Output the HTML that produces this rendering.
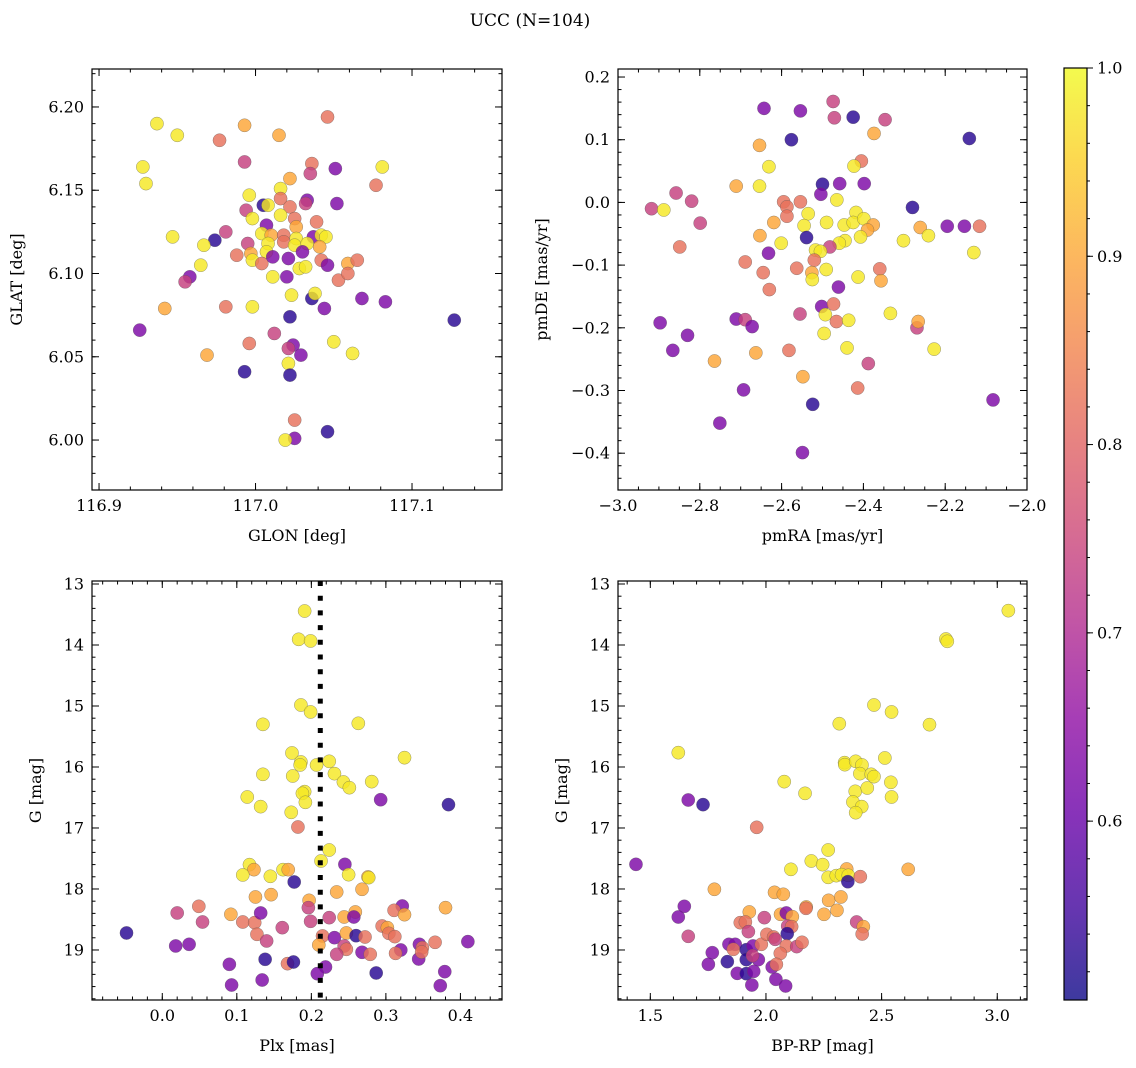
<!DOCTYPE html>
<html><head><meta charset="utf-8"><style>
html,body{margin:0;padding:0;background:#fff;}
svg{display:block;font-family:"DejaVu Serif","Liberation Serif",serif;}
</style></head><body>
<svg id="fig" width="1136" height="1068" viewBox="0 0 1136 1068" xmlns="http://www.w3.org/2000/svg">
<text x="530" y="26" font-size="17" text-anchor="middle">UCC (N=104)</text>
<defs>
<linearGradient id="plasmaGrad" x1="0" y1="1" x2="0" y2="0">
<stop offset="0" stop-color="#0d0887"/><stop offset="0.1" stop-color="#41049d"/><stop offset="0.2" stop-color="#6a00a8"/><stop offset="0.3" stop-color="#8f0da4"/><stop offset="0.4" stop-color="#b12a90"/><stop offset="0.5" stop-color="#cc4778"/><stop offset="0.6" stop-color="#e16462"/><stop offset="0.7" stop-color="#f2844b"/><stop offset="0.8" stop-color="#fca636"/><stop offset="0.9" stop-color="#fcce25"/><stop offset="1" stop-color="#f0f921"/>
</linearGradient>
</defs>
<g id="panels"></g>
<g id="cbar"></g>
</svg>
<script>
// ---- data ----
const p1Glon=[116.937,116.950,116.993,116.977,117.015,117.046,116.928,116.930,116.993,117.036,117.051,117.081,117.035,117.022,117.077,117.016,116.996,117.016,117.033,117.032,117.052,117.005,117.008,117.022,116.994,116.998,117.016,117.025,117.039,117.007,117.026,116.981,116.947,116.974,117.004,117.010,117.018,117.026,117.037,117.042,117.045,116.967,116.995,117.008,117.018,117.025,117.033,117.041,117.030,116.988,116.997,117.007,116.998,117.004,117.011,117.021,117.042,117.046,117.059,117.065,116.965,116.958,116.955,117.028,117.032,117.011,117.020,117.053,117.059,117.023,117.036,117.038,117.044,117.068,117.083,116.942,116.981,116.998,117.022,117.127,116.926,117.012,116.996,117.024,117.021,117.029,117.050,117.062,116.969,116.993,117.021,117.022,117.025,117.025,117.019,117.046];
const p1Glat=[6.190,6.183,6.189,6.180,6.183,6.194,6.164,6.154,6.167,6.166,6.163,6.164,6.160,6.157,6.153,6.151,6.147,6.145,6.144,6.142,6.142,6.141,6.141,6.140,6.138,6.133,6.135,6.133,6.131,6.129,6.128,6.125,6.122,6.120,6.124,6.123,6.123,6.121,6.122,6.123,6.122,6.117,6.118,6.118,6.119,6.117,6.118,6.116,6.113,6.111,6.112,6.113,6.108,6.106,6.110,6.109,6.108,6.105,6.106,6.108,6.105,6.098,6.095,6.103,6.104,6.098,6.098,6.096,6.100,6.087,6.085,6.088,6.079,6.085,6.083,6.079,6.080,6.080,6.074,6.072,6.066,6.064,6.058,6.057,6.055,6.051,6.059,6.052,6.051,6.041,6.046,6.039,6.012,6.001,6.000,6.005];
const p1Prob=[0.98,0.98,0.90,0.82,0.90,0.82,0.98,0.98,0.74,0.82,0.63,0.98,0.74,0.90,0.82,0.98,0.98,0.82,0.63,0.74,0.63,0.53,0.98,0.82,0.74,0.98,0.98,0.82,0.82,0.63,0.90,0.74,0.98,0.53,0.98,0.90,0.82,0.98,0.63,0.98,0.98,0.98,0.74,0.98,0.82,0.98,0.98,0.90,0.63,0.82,0.90,0.98,0.98,0.82,0.63,0.63,0.82,0.63,0.90,0.82,0.98,0.63,0.74,0.98,0.98,0.98,0.63,0.82,0.82,0.98,0.53,0.98,0.63,0.63,0.63,0.90,0.82,0.98,0.53,0.53,0.63,0.74,0.82,0.63,0.74,0.63,0.98,0.98,0.90,0.53,0.98,0.53,0.82,0.63,0.98,0.53];

const p2PmRA=[-2.643,-2.554,-2.474,-2.471,-2.425,-2.347,-2.374,-2.576,-2.141,-2.654,-2.405,-2.423,-2.631,-2.711,-2.654,-2.500,-2.458,-2.398,-2.504,-2.858,-2.820,-2.918,-2.888,-2.799,-2.595,-2.587,-2.554,-2.465,-2.280,-2.587,-2.535,-2.619,-2.545,-2.490,-2.447,-2.418,-2.425,-2.399,-2.376,-2.390,-2.195,-2.153,-2.116,-2.261,-2.241,-2.302,-2.130,-2.849,-2.653,-2.601,-2.539,-2.445,-2.459,-2.407,-2.482,-2.517,-2.505,-2.632,-2.520,-2.689,-2.645,-2.563,-2.526,-2.525,-2.491,-2.413,-2.360,-2.357,-2.630,-2.461,-2.502,-2.473,-2.555,-2.493,-2.466,-2.436,-2.334,-2.897,-2.711,-2.689,-2.672,-2.269,-2.266,-2.830,-2.866,-2.496,-2.440,-2.582,-2.663,-2.764,-2.227,-2.388,-2.548,-2.414,-2.693,-2.524,-2.083,-2.751,-2.549];
const p2PmDE=[0.150,0.146,0.161,0.135,0.136,0.132,0.110,0.100,0.102,0.091,0.066,0.058,0.057,0.026,0.026,0.029,0.030,0.030,0.013,0.015,0.002,-0.010,-0.012,-0.033,0.001,-0.007,0.001,0.004,-0.008,-0.022,-0.018,-0.032,-0.037,-0.032,-0.036,-0.016,-0.032,-0.026,-0.036,-0.044,-0.038,-0.038,-0.038,-0.040,-0.053,-0.061,-0.080,-0.071,-0.053,-0.065,-0.056,-0.061,-0.065,-0.055,-0.071,-0.076,-0.078,-0.081,-0.092,-0.095,-0.112,-0.105,-0.112,-0.123,-0.107,-0.119,-0.106,-0.125,-0.139,-0.135,-0.166,-0.162,-0.178,-0.179,-0.190,-0.188,-0.177,-0.192,-0.186,-0.187,-0.198,-0.200,-0.190,-0.212,-0.236,-0.209,-0.232,-0.236,-0.240,-0.253,-0.234,-0.257,-0.278,-0.296,-0.299,-0.322,-0.315,-0.352,-0.399];
const p2Prob=[0.63,0.63,0.74,0.74,0.53,0.74,0.90,0.53,0.53,0.90,0.82,0.98,0.98,0.90,0.98,0.53,0.63,0.63,0.63,0.74,0.74,0.74,0.98,0.74,0.82,0.82,0.82,0.98,0.53,0.82,0.98,0.90,0.98,0.98,0.98,0.98,0.98,0.98,0.90,0.90,0.63,0.63,0.82,0.90,0.98,0.98,0.98,0.82,0.90,0.98,0.53,0.98,0.98,0.98,0.74,0.98,0.98,0.63,0.82,0.82,0.82,0.82,0.90,0.98,0.98,0.98,0.82,0.90,0.82,0.63,0.63,0.82,0.74,0.98,0.82,0.98,0.98,0.63,0.63,0.74,0.63,0.74,0.90,0.63,0.63,0.98,0.98,0.82,0.90,0.90,0.98,0.74,0.90,0.82,0.63,0.53,0.63,0.63,0.63];

const p3Plx=[0.191,0.183,0.199,0.186,0.199,0.135,0.263,0.174,0.186,0.185,0.207,0.224,0.325,0.135,0.175,0.231,0.243,0.251,0.281,0.191,0.188,0.192,0.114,0.132,0.173,0.293,0.384,0.182,0.224,0.213,0.117,0.123,0.108,0.145,0.162,0.169,0.177,0.245,0.250,0.276,0.277,0.125,0.146,0.234,0.268,0.197,0.196,0.020,0.049,0.054,0.092,0.108,0.124,0.132,0.161,0.199,0.224,0.244,0.259,0.257,0.322,0.311,0.325,0.380,-0.048,0.018,0.036,0.127,0.140,0.215,0.210,0.231,0.247,0.260,0.272,0.295,0.302,0.304,0.312,0.244,0.247,0.234,0.268,0.279,0.320,0.313,0.345,0.349,0.366,0.410,0.344,0.348,0.090,0.138,0.168,0.176,0.219,0.208,0.287,0.379,0.093,0.134,0.373];
const p3G=[13.443,13.907,13.934,14.984,15.098,15.301,15.284,15.770,15.918,15.967,15.967,15.907,15.847,16.120,16.148,16.109,16.246,16.339,16.240,16.404,16.432,16.579,16.492,16.650,16.743,16.536,16.617,16.984,17.361,17.541,17.601,17.683,17.770,17.792,17.683,17.683,17.885,17.596,17.765,17.803,17.814,18.131,18.093,18.049,18.005,18.186,18.306,18.393,18.284,18.541,18.415,18.541,18.552,18.393,18.634,18.530,18.470,18.459,18.377,18.459,18.279,18.350,18.421,18.306,18.721,18.934,18.907,18.743,18.852,18.770,18.918,18.798,18.721,18.765,18.787,18.607,18.634,18.727,18.781,18.934,18.989,19.071,19.038,19.071,19.000,19.055,18.907,18.962,18.874,18.863,19.148,19.033,19.235,19.153,19.224,19.197,19.279,19.388,19.377,19.355,19.574,19.492,19.585];
const p3Prob=[0.98,0.98,0.98,0.98,0.98,0.98,0.98,0.98,0.98,0.98,0.98,0.98,0.98,0.98,0.98,0.98,0.98,0.98,0.98,0.98,0.98,0.98,0.98,0.98,0.98,0.63,0.53,0.82,0.98,0.98,0.98,0.90,0.98,0.98,0.98,0.90,0.53,0.63,0.98,0.90,0.98,0.90,0.90,0.90,0.90,0.90,0.74,0.74,0.82,0.74,0.90,0.82,0.82,0.63,0.74,0.74,0.74,0.90,0.90,0.63,0.63,0.82,0.90,0.90,0.53,0.63,0.63,0.82,0.74,0.82,0.90,0.63,0.90,0.53,0.82,0.82,0.90,0.82,0.82,0.74,0.82,0.74,0.63,0.82,0.63,0.82,0.63,0.82,0.82,0.63,0.63,0.82,0.63,0.53,0.82,0.53,0.63,0.63,0.53,0.63,0.63,0.63,0.63];
const plxMedian=0.212;

const p4BpRp=[3.048,2.778,2.784,2.467,2.543,2.317,2.707,1.621,2.340,2.341,2.388,2.415,2.514,2.406,2.455,2.467,2.079,2.169,2.386,2.438,2.540,2.543,2.376,2.414,2.388,1.664,1.728,1.960,2.269,2.196,2.245,2.108,1.438,2.349,2.615,2.269,2.304,2.327,2.356,2.354,2.408,1.777,2.037,2.075,2.271,2.324,2.174,2.173,2.251,2.307,1.647,1.621,1.664,1.928,1.889,1.911,1.924,1.993,2.063,2.088,2.114,2.094,2.111,2.392,2.421,2.416,1.840,1.867,1.859,1.915,1.944,1.980,2.004,2.033,2.040,2.092,2.088,2.062,2.133,2.156,1.768,1.751,1.833,1.915,1.967,1.942,2.027,2.045,1.876,1.915,1.947,2.043,2.085,1.939];
const p4G=[13.437,13.902,13.940,14.984,15.098,15.290,15.306,15.765,15.929,15.962,15.907,15.967,15.852,16.109,16.120,16.158,16.240,16.432,16.399,16.344,16.251,16.492,16.574,16.650,16.749,16.541,16.617,16.989,17.361,17.541,17.601,17.678,17.596,17.672,17.678,17.809,17.781,17.765,17.776,17.880,17.798,18.005,18.055,18.087,18.186,18.131,18.295,18.317,18.415,18.350,18.284,18.459,18.776,18.377,18.552,18.541,18.699,18.470,18.415,18.393,18.454,18.607,18.617,18.541,18.617,18.738,18.907,18.907,18.989,18.995,18.934,18.907,18.743,18.787,18.825,18.732,18.934,19.055,18.945,18.874,19.044,19.235,19.191,19.158,19.158,19.093,19.279,19.235,19.383,19.388,19.350,19.481,19.590,19.574];
const p4Prob=[0.98,0.98,0.98,0.98,0.98,0.98,0.98,0.98,0.98,0.98,0.98,0.98,0.98,0.98,0.98,0.98,0.98,0.98,0.98,0.98,0.98,0.98,0.98,0.98,0.98,0.63,0.53,0.82,0.98,0.98,0.98,0.98,0.63,0.90,0.90,0.98,0.98,0.98,0.98,0.53,0.82,0.90,0.90,0.90,0.90,0.90,0.90,0.82,0.90,0.90,0.63,0.63,0.74,0.90,0.82,0.82,0.74,0.74,0.90,0.63,0.90,0.74,0.82,0.74,0.90,0.82,0.63,0.63,0.82,0.53,0.63,0.82,0.82,0.82,0.74,0.53,0.82,0.82,0.74,0.82,0.63,0.63,0.53,0.53,0.63,0.74,0.63,0.82,0.63,0.53,0.63,0.63,0.63,0.63];

const p1XTicks=[116.9,117.0,117.1];
const p1YTicks=[6.00,6.05,6.10,6.15,6.20];
const p2XTicks=[-3.0,-2.8,-2.6,-2.4,-2.2,-2.0];
const p2YTicks=[-0.4,-0.3,-0.2,-0.1,0.0,0.1,0.2];
const p3XTicks=[0.0,0.1,0.2,0.3,0.4];
const gTicks=[13,14,15,16,17,18,19];
const p4XTicks=[1.5,2.0,2.5,3.0];
const cbTicks=[0.6,0.7,0.8,0.9,1.0];
const vMin=0.505, vMax=1.0;

// ---- rendering ----
const NS="http://www.w3.org/2000/svg";
const stops=[[13,8,135],[65,4,157],[106,0,168],[143,13,164],[177,42,144],[204,71,120],[225,100,98],[242,132,75],[252,166,54],[252,206,37],[240,249,33]];
function plasma(v){let t=Math.max(0,Math.min(1,(v-vMin)/(vMax-vMin)))*10;let i=Math.min(9,Math.floor(t)),f=t-i;const a=stops[i],b=stops[i+1];return `rgb(${Math.round(a[0]+(b[0]-a[0])*f)},${Math.round(a[1]+(b[1]-a[1])*f)},${Math.round(a[2]+(b[2]-a[2])*f)})`;}
function mk(tag,attrs,parent){const e=document.createElementNS(NS,tag);for(const k in attrs)e.setAttribute(k,attrs[k]);parent.appendChild(e);return e;}
function fmt(v,d){return v.toFixed(d).replace('-','\u2212');}
const root=document.getElementById('panels');

function panel(c){
  const g=mk('g',{},root);
  
  
  const sx=v=>c.x0+(v-c.xmin)/(c.xmax-c.xmin)*c.w;
  const sy=v=>c.yrev? c.y0+(v-c.ymin)/(c.ymax-c.ymin)*c.h : c.y0+c.h-(v-c.ymin)/(c.ymax-c.ymin)*c.h;
  const pg=mk('g',{},g);
  
  
  c.xs.forEach((_,i)=>{
    const cx=sx(c.xs[i]),cy=sy(c.ys[i]);
    if(cx<c.x0||cx>c.x0+c.w||cy<c.y0||cy>c.y0+c.h)return;
    const p=mk('circle',{cx:cx,cy:cy,r:6.6,fill:plasma(c.ps[i]),'fill-opacity':0.82,stroke:'#555','stroke-opacity':0.6,'stroke-width':0.5},pg);
    
    
  });
  if(c.vline!==undefined){
    const l=mk('line',{x1:sx(c.vline),x2:sx(c.vline),y1:c.y0,y2:c.y0+c.h,stroke:'#000','stroke-width':5,'stroke-dasharray':'5 9.7'},g);
    
    
  }
  const fr=mk('rect',{x:c.x0,y:c.y0,width:c.w,height:c.h,fill:'none',stroke:'#000','stroke-width':1.2},g);
  
  
  const tg=mk('g',{stroke:'#000','stroke-width':1},g);
  const eps=1e-9;
  for(let v=Math.ceil(c.xmin/c.xminor-eps)*c.xminor; v<=c.xmax+eps; v+=c.xminor){const x=sx(v);mk('line',{x1:x,x2:x,y1:c.y0+c.h,y2:c.y0+c.h-3.5},tg);mk('line',{x1:x,x2:x,y1:c.y0,y2:c.y0+3.5},tg);}
  for(let v=Math.ceil(c.ymin/c.yminor-eps)*c.yminor; v<=c.ymax+eps; v+=c.yminor){const y=sy(v);mk('line',{x1:c.x0,x2:c.x0+3.5,y1:y,y2:y},tg);mk('line',{x1:c.x0+c.w,x2:c.x0+c.w-3.5,y1:y,y2:y},tg);}
  c.xt.forEach(v=>{const x=sx(v);if(x<c.x0-0.5||x>c.x0+c.w+0.5)return;
    mk('line',{x1:x,x2:x,y1:c.y0+c.h,y2:c.y0+c.h-7},tg);mk('line',{x1:x,x2:x,y1:c.y0,y2:c.y0+7},tg);
    const t=mk('text',{x:x,y:c.y0+c.h+21,'font-size':16,'text-anchor':'middle'},g);t.textContent=fmt(v,c.xd);
    
    });
  c.yt.forEach(v=>{const y=sy(v);if(y<c.y0-0.5||y>c.y0+c.h+0.5)return;
    mk('line',{x1:c.x0,x2:c.x0+7,y1:y,y2:y},tg);mk('line',{x1:c.x0+c.w,x2:c.x0+c.w-7,y1:y,y2:y},tg);
    const t=mk('text',{x:c.x0-8,y:y+5.5,'font-size':16,'text-anchor':'end'},g);t.textContent=fmt(v,c.yd);
    
    });
  const xl=mk('text',{x:c.x0+c.w/2,y:c.y0+c.h+51,'font-size':16,'text-anchor':'middle'},g);xl.textContent=c.xlabel;
  
  
  const yx=c.ylx, yy=c.y0+c.h/2;
  const yl=mk('text',{x:yx,y:yy,'font-size':16,'text-anchor':'middle',transform:`rotate(-90 ${yx} ${yy})`},g);yl.textContent=c.ylabel;
  
  
}

panel({name:'glon-glat-panel',x0:92,y0:69,w:410,h:421,xmin:116.8955,xmax:117.1575,ymin:5.970,ymax:6.2228,xminor:0.02,yminor:0.01,xt:p1XTicks,yt:p1YTicks,xd:1,yd:2,xlabel:'GLON [deg]',ylabel:'GLAT [deg]',ylx:22,xs:p1Glon,ys:p1Glat,ps:p1Prob});
panel({name:'proper-motion-panel',x0:618,y0:69,w:409,h:421,xmin:-3.0,xmax:-2.0,ymin:-0.4587,ymax:0.2128,xminor:0.05,yminor:0.02,xt:p2XTicks,yt:p2YTicks,xd:1,yd:1,xlabel:'pmRA [mas/yr]',ylabel:'pmDE [mas/yr]',ylx:547,xs:p2PmRA,ys:p2PmDE,ps:p2Prob});
panel({name:'plx-g-panel',x0:92,y0:581,w:410,h:419,xmin:-0.0943,xmax:0.4558,ymin:12.951,ymax:19.82,yrev:true,xminor:0.02,yminor:0.2,xt:p3XTicks,yt:gTicks,xd:1,yd:0,xlabel:'Plx [mas]',ylabel:'G [mag]',ylx:41,xs:p3Plx,ys:p3G,ps:p3Prob,vline:plxMedian});
panel({name:'cmd-panel',x0:618,y0:581,w:409,h:419,xmin:1.3603,xmax:3.1286,ymin:12.951,ymax:19.82,yrev:true,xminor:0.1,yminor:0.2,xt:p4XTicks,yt:gTicks,xd:1,yd:0,xlabel:'BP-RP [mag]',ylabel:'G [mag]',ylx:567,xs:p4BpRp,ys:p4G,ps:p4Prob});

// colorbar
const cb=document.getElementById('cbar');
const cx0=1064,cy0=68,cw=23,ch=932;
const cr=mk('rect',{x:cx0,y:cy0,width:cw,height:ch,fill:'url(#plasmaGrad)','fill-opacity':0.8},cb);


mk('rect',{x:cx0,y:cy0,width:cw,height:ch,fill:'none',stroke:'#000','stroke-width':1.2},cb);
const cby=v=>cy0+ch-(v-vMin)/(vMax-vMin)*ch;
for(let v=0.52; v<=1.0001; v+=0.02){const y=cby(v);mk('line',{x1:cx0+cw,x2:cx0+cw+3,y1:y,y2:y,stroke:'#000','stroke-width':1},cb);}
cbTicks.forEach(v=>{const y=cby(v);mk('line',{x1:cx0+cw,x2:cx0+cw+6,y1:y,y2:y,stroke:'#000','stroke-width':1},cb);
  const t=mk('text',{x:cx0+cw+10,y:y+5.5,'font-size':16},cb);t.textContent=v.toFixed(1);
  
  });
</script>
</body></html>
